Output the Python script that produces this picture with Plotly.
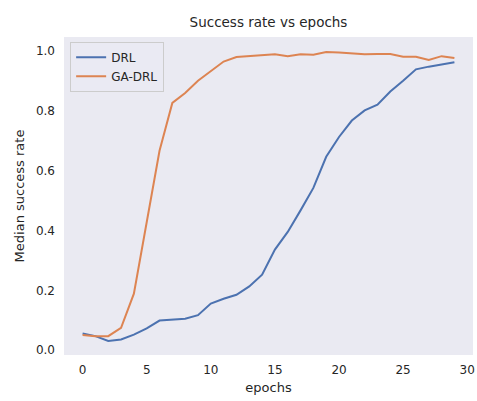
import plotly.graph_objects as go

epochs = list(range(30))
drl = [0.056, 0.047, 0.031, 0.036, 0.052, 0.073, 0.099, 0.103, 0.105, 0.117,
       0.156, 0.172, 0.185, 0.213, 0.252, 0.336, 0.395, 0.467, 0.542, 0.646,
       0.712, 0.767, 0.801, 0.820, 0.864, 0.900, 0.938, 0.947, 0.955, 0.962]
ga_drl = [0.051, 0.047, 0.047, 0.075, 0.189, 0.430, 0.666, 0.826, 0.859, 0.900,
          0.933, 0.964, 0.979, 0.982, 0.983, 0.988, 0.982, 0.988, 0.987, 0.996,
          0.994, 0.990, 0.988, 0.989, 0.989, 0.980, 0.980, 0.969, 0.982, 0.976]
x_ticks = [0, 5, 10, 15, 20, 25, 30]
y_ticks = [0.0, 0.2, 0.4, 0.6, 0.8, 1.0]

font = "DejaVu Sans"
txt = "#262626"

fig = go.Figure()
fig.add_trace(go.Scatter(x=epochs, y=drl, mode="lines", name="DRL",
                         line=dict(color="#4C72B0", width=2)))
fig.add_trace(go.Scatter(x=epochs, y=ga_drl, mode="lines", name="GA-DRL",
                         line=dict(color="#DD8452", width=2)))

fig.update_layout(
    width=477, height=401,
    margin=dict(l=64, r=4, t=37, b=46),
    paper_bgcolor="white",
    plot_bgcolor="#EAEAF2",
    font=dict(family=font, size=12, color=txt),
    title=dict(text="Success rate vs epochs", x=(64 + 473) / 2 / 477, xanchor="center",
               y=1 - 22 / 401, yanchor="middle", font=dict(size=13.5, color=txt)),
    legend=dict(x=0.015, y=0.985, xanchor="left", yanchor="top",
                bgcolor="rgba(234,234,242,0.8)", bordercolor="#CCCCCC", borderwidth=1,
                font=dict(size=12, color=txt), tracegroupgap=0),
    xaxis=dict(range=[-1.45, 30.45], tickvals=x_ticks, showgrid=False, zeroline=False,
               showline=False, ticks="", ticklabelstandoff=6, automargin=False,
               title=dict(text="epochs", font=dict(size=13, color=txt), standoff=6)),
    yaxis=dict(range=[-0.016, 1.046], tickvals=y_ticks, tickformat=".1f", showgrid=False,
               zeroline=False, showline=False, ticks="", ticklabelstandoff=8, automargin=False,
               title=dict(text="Median success rate", font=dict(size=13, color=txt), standoff=8)),
)

fig.write_html("out.html", config={"displayModeBar": False},
               post_script="document.body.style.margin='0';")
